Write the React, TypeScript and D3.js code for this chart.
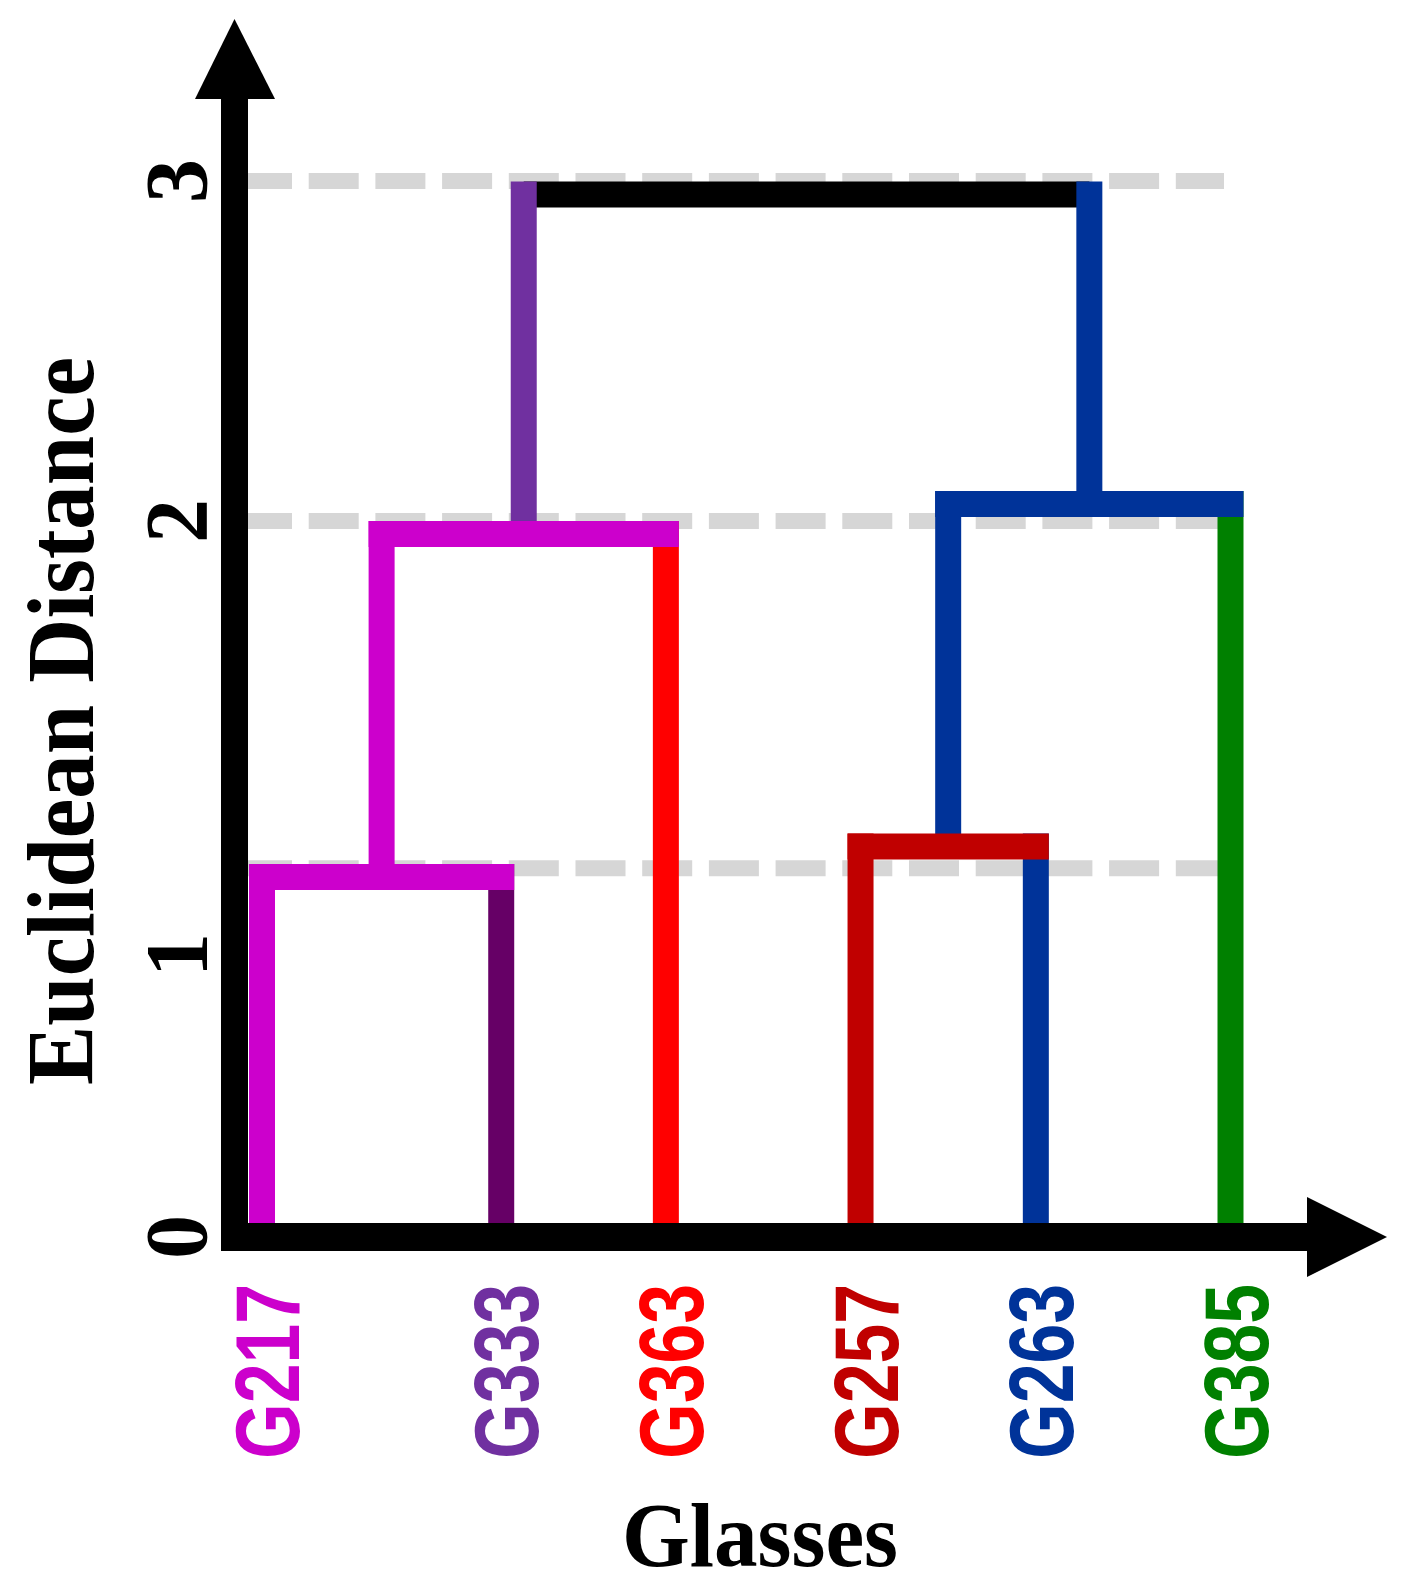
import React from "react";
import * as d3 from "d3";

// ---------- data ----------
const leafNames = ["G217", "G333", "G363", "G257", "G263", "G385"];
// position of each leaf along the horizontal axis (0–100)
const leafPositions = [0, 24.7, 41.7, 61.8, 79.9, 100];
const leafLineColors = ["#CC00CC", "#660066", "#FF0000", "#C00000", "#003399", "#008000"];
const leafLabelColors = ["#CC00CC", "#7030A0", "#FF0000", "#C00000", "#003399", "#008000"];

const mergeIds = ["A", "B", "C", "D", "Root"];
const mergeChildren = [
  ["G217", "G333"],
  ["A", "G363"],
  ["G257", "G263"],
  ["C", "G385"],
  ["B", "D"],
];
const mergeHeights = [1.18, 1.97, 1.25, 2.05, 2.96];
const mergeBarColors = ["#CC00CC", "#CC00CC", "#C00000", "#003399", "#000000"];
// colour of the link rising from each cluster to its parent
const mergeLinkColors = ["#CC00CC", "#7030A0", "#003399", "#003399", "#000000"];

const yTicks = [0, 1, 2, 3];
const gridValues = [3, 2, 1.2];

const xTitle = "Glasses";
const yTitle = "Euclidean Distance";

// ---------- layout ----------
const W = 1405;
const H = 1589;
const LW = 26;

export default function App() {
  const x = d3.scaleLinear().domain([0, 100]).range([262, 1230.5]);
  const y = d3.scaleLinear().domain([0, 1, 2, 3]).range([1237, 955, 521, 181]);

  type Node = { id: string; x: number; h: number; lineColor: string; parent?: string };
  const nodes: Record<string, Node> = {};
  leafNames.forEach((n, i) => {
    nodes[n] = { id: n, x: x(leafPositions[i]), h: 0, lineColor: leafLineColors[i] };
  });
  mergeIds.forEach((id, i) => {
    const [a, b] = mergeChildren[i];
    nodes[id] = {
      id,
      x: (nodes[a].x + nodes[b].x) / 2,
      h: mergeHeights[i],
      lineColor: mergeLinkColors[i],
    };
    nodes[a].parent = id;
    nodes[b].parent = id;
  });

  const rootId = mergeIds[mergeIds.length - 1];

  // vertical links
  const verticals = Object.values(nodes)
    .filter((n) => n.parent)
    .map((n) => {
      const p = nodes[n.parent as string];
      return { id: n.id, x: n.x, y1: y(n.h), y2: y(p.h) - LW / 2, color: n.lineColor };
    });

  const bars = mergeIds.map((id, i) => {
    const [a, b] = mergeChildren[i];
    return { id, x1: nodes[a].x, x2: nodes[b].x, y: y(mergeHeights[i]), color: mergeBarColors[i] };
  });
  const rootBar = bars.filter((b) => b.id === rootId);
  const otherBars = bars.filter((b) => b.id !== rootId);

  const axisX1 = 221;
  const axisX2 = 248;
  const y0 = y(0);

  return (
    <svg
      width={W}
      height={H}
      viewBox={`0 0 ${W} ${H}`}
      style={{ position: "absolute", left: 0, top: 0, background: "#fff" }}
    >
      <rect x={0} y={0} width={W} height={H} fill="#fff" />
      {/* grid lines */}
      {gridValues.map((g) => (
        <line
          key={g}
          x1={242}
          x2={1224}
          y1={y(g)}
          y2={y(g)}
          stroke="#D6D6D6"
          strokeWidth={16}
          strokeDasharray="50 16.7"
        />
      ))}
      {/* root bar (under the verticals) */}
      {rootBar.map((b) => (
        <line key={b.id} x1={b.x1} x2={b.x2} y1={b.y} y2={b.y} stroke={b.color} strokeWidth={LW} strokeLinecap="butt" />
      ))}
      {/* vertical links */}
      {verticals.map((v) => (
        <line key={v.id} x1={v.x} x2={v.x} y1={v.y1} y2={v.y2} stroke={v.color} strokeWidth={LW} strokeLinecap="butt" />
      ))}
      {/* merge bars */}
      {otherBars.map((b) => (
        <line key={b.id} x1={b.x1} x2={b.x2} y1={b.y} y2={b.y} stroke={b.color} strokeWidth={LW} strokeLinecap="square" />
      ))}
      {/* axes */}
      <rect x={axisX1} y={99} width={axisX2 - axisX1} height={y0 + 14 - 99} fill="#000" />
      <polygon points={`${(axisX1 + axisX2) / 2},19 195,99 275,99`} fill="#000" />
      <rect x={axisX1} y={y0 - 14} width={1307 - axisX1} height={28} fill="#000" />
      <polygon points={`1307,${y0 - 40} 1387,${y0} 1307,${y0 + 40}`} fill="#000" />
      {/* y tick labels */}
      {yTicks.map((t) => (
        <text
          key={t}
          transform={`translate(206,${y(t)}) rotate(-90)`}
          textAnchor="middle"
          fontFamily="'Liberation Serif', 'Times New Roman', serif"
          fontWeight="bold"
          fontSize={88}
          fill="#000"
        >
          {t}
        </text>
      ))}
      {/* leaf labels */}
      {leafNames.map((n, i) => (
        <text
          key={n}
          transform={`translate(${nodes[n].x + 37},1459) rotate(-90)`}
          textAnchor="start"
          fontFamily="'Liberation Sans', Arial, sans-serif"
          fontWeight="bold"
          fontSize={90}
          textLength={175}
          lengthAdjust="spacingAndGlyphs"
          fill={leafLabelColors[i]}
        >
          {n}
        </text>
      ))}
      {/* axis titles */}
      <text
        transform="translate(93,721) rotate(-90)"
        textAnchor="middle"
        fontFamily="'Liberation Serif', 'Times New Roman', serif"
        fontWeight="bold"
        fontSize={95}
        textLength={728}
        lengthAdjust="spacingAndGlyphs"
        fill="#000"
      >
        {yTitle}
      </text>
      <text
        x={760}
        y={1566}
        textAnchor="middle"
        fontFamily="'Liberation Serif', 'Times New Roman', serif"
        fontWeight="bold"
        fontSize={92}
        textLength={276}
        lengthAdjust="spacingAndGlyphs"
        fill="#000"
      >
        {xTitle}
      </text>
    </svg>
  );
}
